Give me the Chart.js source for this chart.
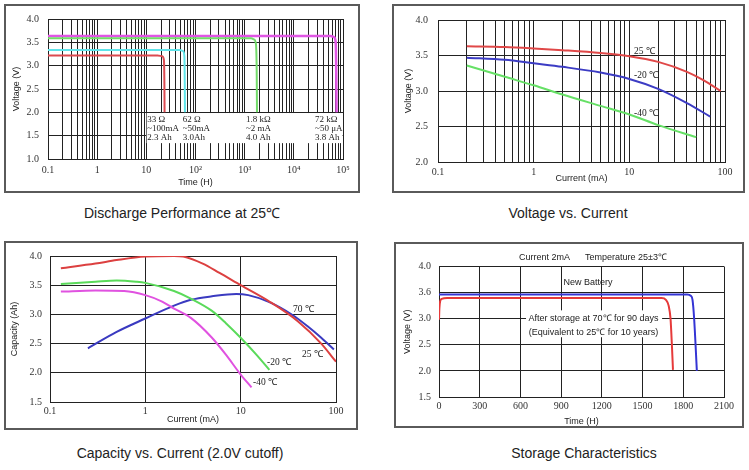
<!DOCTYPE html>
<html>
<head>
<meta charset="utf-8">
<script src="https://cdn.jsdelivr.net/npm/chart.js@4.4.0/dist/chart.umd.min.js"></script>
<style>
body { margin: 0; background: #fff; width: 749px; height: 470px; position: relative; overflow: hidden; font-family: "Liberation Sans", Arial, sans-serif; }
.box { position: absolute; border: 2px solid #5a5a5a; box-sizing: border-box; }
canvas { position: absolute; }
.cap { position: absolute; width: 320px; font-size: 14px; line-height: 18px; color: #222; text-align: center; white-space: nowrap; }
</style>
</head>
<body>
<div class="box" style="left:4px;top:4px;width:356px;height:189px"></div>
<div class="box" style="left:392px;top:4px;width:353px;height:189px"></div>
<div class="box" style="left:4px;top:241px;width:354px;height:189px"></div>
<div class="box" style="left:394px;top:242px;width:350px;height:186px"></div>
<canvas id="c1" width="356" height="189" style="left:4px;top:4px"></canvas>
<canvas id="c2" width="353" height="189" style="left:392px;top:4px"></canvas>
<canvas id="c3" width="354" height="189" style="left:4px;top:241px"></canvas>
<canvas id="c4" width="350" height="186" style="left:394px;top:242px"></canvas>
<div class="cap" style="left:22px;top:204px">Discharge Performance at 25℃</div>
<div class="cap" style="left:408px;top:204px">Voltage vs. Current</div>
<div class="cap" style="left:20px;top:444px">Capacity vs. Current (2.0V cutoff)</div>
<div class="cap" style="left:424px;top:444px">Storage Characteristics</div>
<script>
// ---- data (x, y) ----
// Discharge performance at 25C: time (h) vs voltage (V)
const load33ohm = [[0.1, 3.22], [17, 3.22], [21, 3.2], [22.8, 3.12], [23.3, 2.6], [23.5, 2.0]];
const load62ohm = [[0.1, 3.335], [48, 3.335], [56, 3.31], [59.5, 3.2], [60.5, 2.6], [61, 2.0]];
const load1k8 = [[0.1, 3.585], [1350, 3.585], [1560, 3.56], [1700, 3.45], [1760, 2.8], [1780, 2.0]];
const load72k = [[0.1, 3.635], [56000, 3.635], [66000, 3.61], [71000, 3.5], [73000, 2.8], [74000, 2.0]];
const loadNotes = [
  ['33 Ω', '~100mA', '2.3 Ah'],
  ['62 Ω', '~50mA', '3.0Ah'],
  ['1.8 kΩ', '~2 mA', '4.0 Ah'],
  ['72 kΩ', '~50 μA', '3.8 Ah']
];
const loadNoteX = [10.4, 55, 1060, 27000];

// Voltage vs current: current (mA) vs voltage (V)
const vc25 = [[0.2, 3.63], [0.5, 3.62], [1, 3.6], [2, 3.575], [5, 3.535], [10, 3.49], [20, 3.41], [40, 3.27], [60, 3.15], [90, 3.0]];
const vcMinus20 = [[0.2, 3.47], [0.5, 3.44], [1, 3.39], [2, 3.34], [5, 3.26], [10, 3.17], [20, 3.03], [40, 2.83], [70, 2.64]];
const vcMinus40 = [[0.2, 3.36], [0.5, 3.2], [1, 3.08], [2, 2.95], [5, 2.79], [10, 2.67], [20, 2.52], [50, 2.35]];

// Capacity vs current: current (mA) vs capacity (Ah)
const cap25 = [[0.13, 3.79], [0.3, 3.87], [0.5, 3.93], [1, 3.99], [2, 4.0], [2.5, 3.99], [4, 3.87], [6, 3.71], [10, 3.5], [20, 3.22], [40, 2.88], [70, 2.5], [100, 2.19]];
const capMinus20 = [[0.13, 3.52], [0.3, 3.56], [0.5, 3.58], [0.8, 3.56], [1, 3.54], [2, 3.4], [3, 3.27], [5, 3.06], [7, 2.85], [10, 2.6], [15, 2.29], [20, 2.05]];
const capMinus40 = [[0.13, 3.39], [0.3, 3.41], [0.6, 3.4], [1, 3.33], [1.5, 3.22], [2, 3.1], [3, 2.94], [5, 2.6], [7, 2.31], [10, 1.97], [13, 1.75]];
const cap70 = [[0.25, 2.42], [0.5, 2.7], [1, 2.93], [2, 3.15], [3, 3.25], [5, 3.31], [9, 3.35], [12, 3.33], [20, 3.21], [35, 2.99], [50, 2.8], [70, 2.6], [95, 2.4]];

// Storage characteristics: time (h) vs voltage (axis units)
const storeNew = [[0, 3.465], [1830, 3.465], [1855, 3.44], [1868, 3.36], [1880, 3.0], [1900, 2.0]];
const storeAged = [[0, 2.98], [3, 3.2], [8, 3.33], [20, 3.38], [60, 3.395], [1640, 3.395], [1672, 3.36], [1692, 3.25], [1706, 3.0], [1716, 2.5], [1724, 2.02]];

// ---- tick lists ----
const decadeTicks = [0.1, 1, 10, 100, 1000, 10000, 100000];
const timeLogLabels = ['0.1', '1', '10', '10²', '10³', '10⁴', '10⁵'];
const currentLabels = ['0.1', '1', '10', '100'];
const storeTimeTicks = [0, 300, 600, 900, 1200, 1500, 1800, 2100];
const storeVoltTicks = [1.5, 2.0, 2.5, 3.0, 3.5, 4.0];
const storeVoltLabels = ['1.5', '2.0', '2.5', '3.0', '3.6', '4.0'];

function logGrid(fromExp, toExp) {
  const out = [];
  for (let d = fromExp; d < toExp; d++) {
    for (let k = 1; k < 10; k++) out.push(k * Math.pow(10, d));
  }
  out.push(Math.pow(10, toExp));
  return out;
}
function halfSteps(a, b) {
  const out = [];
  for (let v = a; v <= b + 1e-9; v += 0.5) out.push(+v.toFixed(1));
  return out;
}
function decadeLabel(labels) {
  return function (v) {
    const i = decadeTicks.findIndex(d => Math.abs(Math.log10(v) - Math.log10(d)) < 1e-6);
    return i >= 0 && i < labels.length ? labels[i] : '';
  };
}

const serif = '"Liberation Serif", "Times New Roman", serif';
const sans = '"Liberation Sans", Arial, sans-serif';
const gridCol = '#222';

const pts = arr => arr.map(p => ({x: p[0], y: p[1]}));
function line(data, color, w) {
  return {data: pts(data), borderColor: color, borderWidth: w || 2, pointRadius: 0,
    fill: false, cubicInterpolationMode: 'monotone'};
}

const notes = {
  id: 'notes',
  beforeDatasetsDraw(chart, args, opts) {
    const {ctx, scales} = chart;
    ctx.save();
    ctx.fillStyle = '#fff';
    for (const b of opts.blanks || []) {
      const x0 = scales.x.getPixelForValue(b[0]), x1 = scales.x.getPixelForValue(b[1]);
      const y0 = scales.y.getPixelForValue(b[2]), y1 = scales.y.getPixelForValue(b[3]);
      ctx.fillRect(Math.min(x0, x1), Math.min(y0, y1), Math.abs(x1 - x0), Math.abs(y1 - y0));
    }
    ctx.restore();
  },
  afterDatasetsDraw(chart, args, opts) {
    const {ctx, scales} = chart;
    ctx.save();
    for (const t of opts.texts || []) {
      ctx.font = t.font;
      ctx.fillStyle = t.color || '#222';
      ctx.textAlign = t.align || 'left';
      ctx.textBaseline = 'middle';
      ctx.fillText(t.text, scales.x.getPixelForValue(t.x), scales.y.getPixelForValue(t.y));
    }
    ctx.restore();
  }
};

// g: yW = y axis width, xH = x axis height, top/right = padding
function makeChart(id, g, xs, ys, datasets, extra) {
  const x = Object.assign({
    afterFit: s => { s.height = g.xH; },
    afterBuildTicks: s => { s.ticks = xs.ticks.map(v => ({value: v})); },
    ticks: {autoSkip: false, maxRotation: 0, padding: g.xPad, color: '#333', font: {family: serif, size: 10}, callback: xs.label},
    grid: {color: gridCol, lineWidth: 1, drawTicks: false},
    border: {color: gridCol, width: 1},
    title: {display: true, text: xs.title, color: '#222', font: {family: sans, size: 9}, padding: {top: 0, bottom: g.xtPad}}
  }, xs.opts);
  const y = Object.assign({
    afterFit: s => { s.width = g.yW; },
    afterBuildTicks: s => { s.ticks = ys.ticks.map(v => ({value: v})); },
    ticks: {autoSkip: false, padding: g.yPad, color: '#333', font: {family: serif, size: 10}, callback: ys.label},
    grid: {color: gridCol, lineWidth: 1, drawTicks: false},
    border: {color: gridCol, width: 1},
    title: {display: true, text: ys.title, color: '#222', font: {family: sans, size: 9}, padding: {top: g.ytPad, bottom: 0}}
  }, ys.opts);
  return new Chart(document.getElementById(id), {
    type: 'line',
    data: {datasets},
    options: {
      responsive: false, animation: false, parsing: false,
      layout: {padding: {left: 0, top: g.top, right: g.right, bottom: 0}},
      scales: {x, y},
      plugins: {legend: {display: false}, tooltip: {enabled: false}, notes: extra}
    },
    plugins: [notes]
  });
}

const noteFont = '9px ' + serif;
const loadTexts = [];
loadNotes.forEach((lines, i) => {
  lines.forEach((txt, j) => loadTexts.push({text: txt, x: loadNoteX[i], y: [1.854, 1.646, 1.458][j], font: noteFont, color: '#222'}));
});

// 1. Discharge performance
makeChart('c1', {yW: 44, xH: 34, top: 11, right: 17, xPad: 5, yPad: 9, ytPad: 7.6, xtPad: 4.6},
  {type: 'logarithmic', ticks: logGrid(-1, 5), label: decadeLabel(timeLogLabels), title: 'Time (H)', opts: {type: 'logarithmic', min: 0.1, max: 100000}},
  {ticks: halfSteps(1, 4), label: v => v.toFixed(1), title: 'Voltage (V)', opts: {type: 'linear', min: 1, max: 4}},
  [line(load33ohm, '#dc4a50'), line(load62ohm, '#5fe4ea'), line(load1k8, '#72dc6a'), line(load72k, '#e056e4', 2.5)],
  {blanks: [[10.15, 98000, 1.34, 1.985]], texts: loadTexts}
);

// 2. Voltage vs current
const labFont = '9.5px ' + serif;
makeChart('c2', {yW: 46, xH: 31, top: 12, right: 20, xPad: 4, yPad: 10, ytPad: 10.9, xtPad: 9.3},
  {ticks: logGrid(-1, 2), label: decadeLabel(currentLabels), title: 'Current (mA)', opts: {type: 'logarithmic', min: 0.1, max: 100}},
  {ticks: halfSteps(2, 4), label: v => v.toFixed(1), title: 'Voltage (V)', opts: {type: 'linear', min: 2, max: 4}},
  [line(vc25, '#e04848'), line(vcMinus20, '#3c3cc4'), line(vcMinus40, '#66e066')],
  {texts: [
    {text: '25 ℃', x: 11.2, y: 3.55, font: labFont},
    {text: '-20 ℃', x: 11.2, y: 3.22, font: labFont},
    {text: '-40 ℃', x: 11.2, y: 2.685, font: labFont}
  ]}
);

// 3. Capacity vs current
makeChart('c3', {yW: 46, xH: 28, top: 15, right: 22, xPad: 3, yPad: 8, ytPad: 5.6, xtPad: 5.3},
  {ticks: [0.1, 1, 10, 100], label: decadeLabel(currentLabels), title: 'Current (mA)', opts: {type: 'logarithmic', min: 0.1, max: 100}},
  {ticks: halfSteps(1.5, 4), label: v => v.toFixed(1), title: 'Capacity (Ah)', opts: {type: 'linear', min: 1.5, max: 4}},
  [line(cap25, '#dc4040'), line(capMinus20, '#5ada5a'), line(capMinus40, '#e052e0'), line(cap70, '#3a3ac0')],
  {texts: [
    {text: '70 ℃', x: 35.4, y: 3.09, font: labFont},
    {text: '25 ℃', x: 44, y: 2.32, font: labFont},
    {text: '-20 ℃', x: 18.9, y: 2.18, font: labFont},
    {text: '-40 ℃', x: 13.5, y: 1.83, font: labFont}
  ]}
);

// 4. Storage characteristics
const annFont = '9px ' + sans;
makeChart('c4', {yW: 45, xH: 31, top: 24.5, right: 20, xPad: 3, yPad: 8, ytPad: 8.6, xtPad: 1},
  {ticks: storeTimeTicks, label: v => String(v), title: 'Time (H)', opts: {type: 'linear', min: 0, max: 2100}},
  {ticks: storeVoltTicks, label: (v, i) => storeVoltLabels[i], title: 'Voltage (V)', opts: {type: 'linear', min: 1.5, max: 4}},
  [line(storeNew, '#3434d4'), line(storeAged, '#e63a3a')],
  {blanks: [[641, 1644, 3.16, 2.645]], texts: [
    {text: 'Current 2mA', x: 590, y: 4.17, font: annFont},
    {text: 'Temperature 25±3℃', x: 1076, y: 4.17, font: annFont},
    {text: 'New Battery', x: 1098, y: 3.69, font: annFont, align: 'center'},
    {text: 'After storage at 70℃ for 90 days', x: 1139, y: 3.01, font: annFont, align: 'center'},
    {text: '(Equivalent to 25℃ for 10 years)', x: 1139, y: 2.74, font: annFont, align: 'center'}
  ]}
);
</script>
</body>
</html>
